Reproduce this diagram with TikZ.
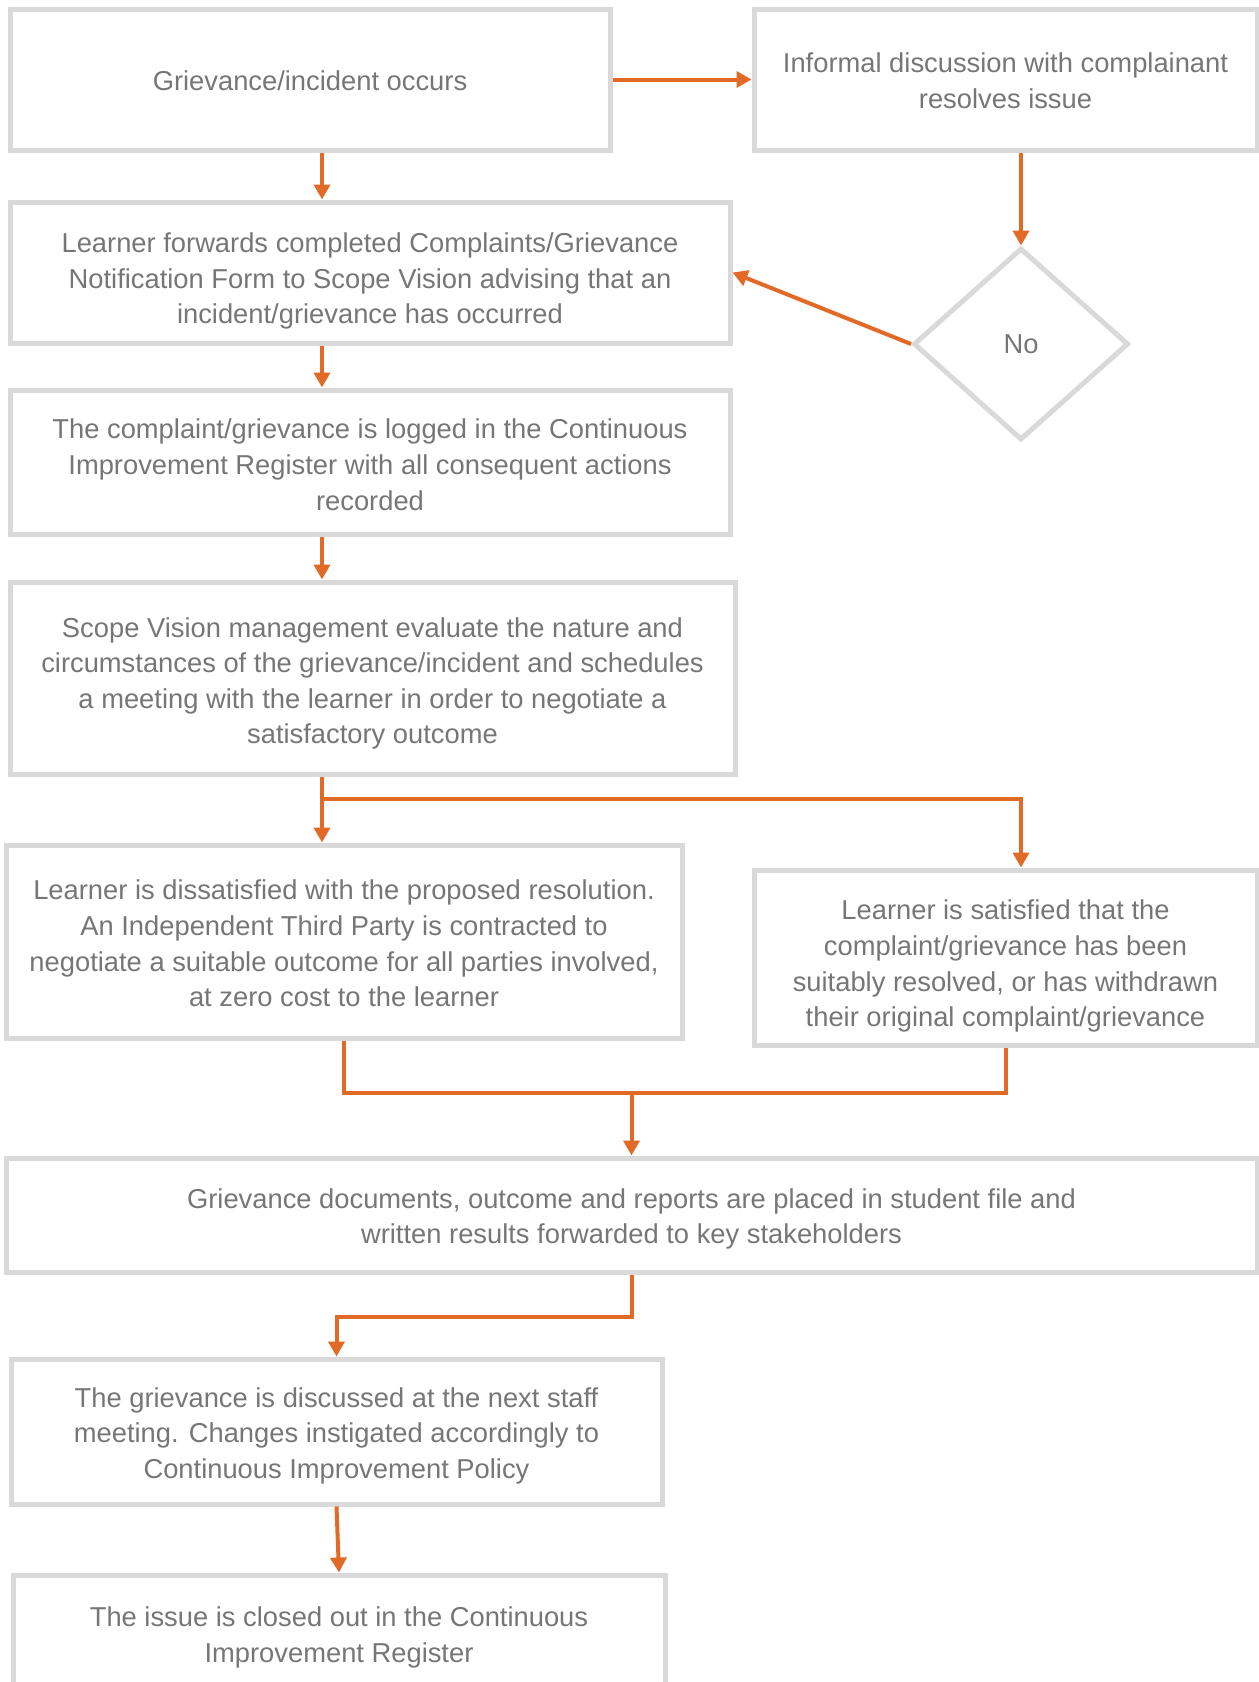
\documentclass[tikz,border=0pt]{standalone}
\usepackage{fontspec}
\setmainfont{Liberation Sans}
\usetikzlibrary{arrows.meta,shapes.geometric}
\definecolor{boxline}{RGB}{217,217,217}
\definecolor{flowtext}{RGB}{118,118,118}
\definecolor{flowarrow}{RGB}{224,106,38}
\newcommand\steptext[2][2.5pt]{\raisebox{-#1}[\height][\depth]{\begin{tabular}{@{}c@{}}#2\end{tabular}}}

\begin{document}
\begin{tikzpicture}[x=0.75pt,y=0.75pt,yscale=-1,xscale=1,
  stepbox/.style={draw=boxline,line width=3.75pt,rectangle,text=flowtext,inner sep=0pt,
    font=\fontsize{20.5}{26.7}\selectfont},
  nobox/.style={draw=boxline,line width=3.75pt,diamond,aspect=1.12,inner sep=0pt,text=flowtext,
    minimum width=161.25pt,minimum height=144pt,font=\fontsize{20.5}{26.7}\selectfont},
  flow/.style={draw=flowarrow,line width=3pt},
  arr/.style={flow,-{Triangle[length=11.25pt,width=12pt]}}]
\useasboundingbox (0,0) rectangle (1258,1682);

% boxes
\node (b1) [stepbox,minimum width=450pt,minimum height=105.75pt] at (310,79.5) {\steptext[3pt]{Grievance/incident occurs}};
\node (b2) [stepbox,minimum width=377.25pt,minimum height=105.75pt] at (1005.5,79.5) {\steptext[3pt]{Informal discussion with complainant\\resolves issue}};
\node (b3) [stepbox,minimum width=540pt,minimum height=105.75pt] at (370,272.5) {\steptext[6.5pt]{Learner forwards completed Complaints/Grievance\\Notification Form to Scope Vision advising that an\\incident/grievance has occurred}};
\node (d) [nobox] at (1021,344) {No};
\node (b4) [stepbox,minimum width=540pt,minimum height=108pt] at (370,462) {\steptext[4pt]{The complaint/grievance is logged in the Continuous\\Improvement Register with all consequent actions\\recorded}};
\node (b5) [stepbox,minimum width=543.75pt,minimum height=144pt] at (372.5,678) {\steptext[4pt]{Scope Vision management evaluate the nature and\\circumstances of the grievance/incident and schedules\\a meeting with the learner in order to negotiate a\\satisfactory outcome}};
\node (b6) [stepbox,minimum width=507pt,minimum height=144.75pt] at (344,941.5) {\steptext[3.5pt]{Learner is dissatisfied with the proposed resolution.\\An Independent Third Party is contracted to\\negotiate a suitable outcome for all parties involved,\\at zero cost to the learner}};
\node (b7) [stepbox,minimum width=377.25pt,minimum height=131.25pt] at (1005.5,957.5) {\steptext[6.5pt]{Learner is satisfied that the\\complaint/grievance has been\\suitably resolved, or has withdrawn\\their original complaint/grievance}};
\node (b8) [stepbox,minimum width=938.25pt,minimum height=85.5pt] at (631.5,1215) {\steptext[3pt]{Grievance documents, outcome and reports are placed in student file and\\written results forwarded to key stakeholders}};
\node (b9) [stepbox,minimum width=488.25pt,minimum height=108.75pt] at (336.5,1431.5) {\steptext[3pt]{The grievance is discussed at the next staff\\meeting. Changes instigated accordingly to\\Continuous Improvement Policy}};
\node (b10) [stepbox,minimum width=489pt,minimum height=88.5pt] at (339,1634) {\steptext{The issue is closed out in the Continuous\\Improvement Register}};

% helper points
\coordinate (cA) at (322,0);
\coordinate (split) at (322,799);
\coordinate (join) at (631.5,1093);

% connectors
\draw [arr] (b1.east) -- (b2.west);
\draw [arr] (b1.south -| cA) -- (b3.north -| cA);
\draw [arr] (d.north |- b2.south) -- (d.north);
\draw [arr] (d.west) -- (b3.east);
\draw [arr] (b3.south -| cA) -- (b4.north -| cA);
\draw [arr] (b4.south -| cA) -- (b5.north -| cA);
\draw [arr] (b5.south -| cA) -- (b6.north -| cA);
\draw [arr] (split) -| (b7.north -| d.north);
\draw [flow] (b6.south) |- (join) -| (b7.south);
\draw [arr] (join) -- (b8.north);
\draw [arr] (b8.south) -- ++(0,42) -| (b9.north);
\draw [arr] (b9.south) -- (b10.north);
\end{tikzpicture}
\end{document}
